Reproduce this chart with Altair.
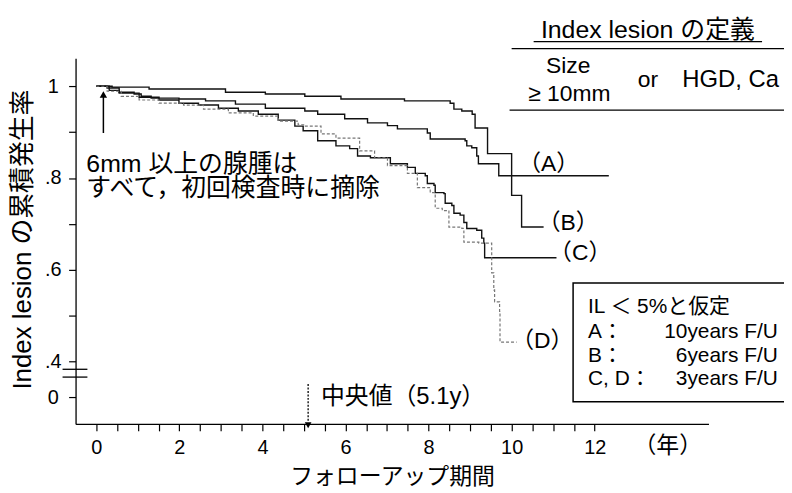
import altair as alt
import pandas as pd

FONT = "Liberation Sans, Noto Sans CJK JP"

# ---- step curves (years, cumulative rate) ----
A_t = [0, 0.38, 1.27, 3.11, 4.07, 5.02, 5.89, 7.42, 8.52, 8.61, 8.80, 9.05, 9.12, 9.42, 10.0, 12.34]
A_v = [1.0, 0.998, 0.994, 0.987, 0.983, 0.978, 0.972, 0.968, 0.963, 0.950, 0.946, 0.939, 0.909, 0.853, 0.805, 0.805]

B_t = [0, 0.26, 0.55, 0.91, 1.08, 1.32, 1.99, 2.63, 3.35, 4.07, 5.02, 5.33, 5.98, 6.53, 7.01, 7.25,
       7.97, 8.04, 8.88, 8.92, 9.04, 9.16, 9.20, 9.69, 10.0, 10.24, 10.77]
B_v = [1.0, 0.996, 0.987, 0.983, 0.978, 0.974, 0.972, 0.968, 0.961, 0.952, 0.946, 0.939, 0.929, 0.920, 0.914, 0.907,
       0.898, 0.885, 0.881, 0.870, 0.866, 0.848, 0.831, 0.805, 0.762, 0.693, 0.693]

C_t = [0, 0.31, 0.55, 1.03, 1.51, 1.99, 2.46, 2.94, 3.42, 3.90, 4.38, 4.78, 4.98, 5.33, 5.77, 6.10, 6.29, 6.60,
       7.08, 7.49, 7.68, 7.92, 7.97, 8.13, 8.16, 8.37, 8.40, 8.56, 8.61, 8.76, 8.85, 8.92, 9.16, 9.28, 9.33, 9.35, 11.08]
C_v = [1.0, 0.991, 0.985, 0.976, 0.970, 0.963, 0.959, 0.952, 0.946, 0.939, 0.926, 0.913, 0.903, 0.881, 0.870, 0.864,
       0.848, 0.844, 0.831, 0.823, 0.810, 0.805, 0.788, 0.784, 0.768, 0.766, 0.745, 0.740, 0.723, 0.719, 0.703, 0.690,
       0.686, 0.669, 0.658, 0.626, 0.626]

D_t = [0, 0.26, 0.60, 1.03, 1.51, 2.10, 2.58, 3.18, 3.78, 4.38, 4.86, 5.02, 5.41, 5.77, 6.34, 6.70, 7.01, 7.49,
       7.73, 8.04, 8.16, 8.33, 8.49, 8.80, 8.85, 9.21, 9.52, 9.57, 9.59, 9.71, 9.72, 10.12]
D_v = [1.0, 0.989, 0.978, 0.970, 0.963, 0.959, 0.950, 0.942, 0.935, 0.924, 0.916, 0.913, 0.896, 0.887, 0.859, 0.844,
       0.827, 0.810, 0.779, 0.768, 0.734, 0.729, 0.693, 0.690, 0.660, 0.658, 0.593, 0.556, 0.530, 0.509, 0.442, 0.442]

# ---- axes ----
x_tick_values = [0, 0.5, 1, 1.5, 2, 2.5, 3, 3.5, 4, 4.5, 5, 5.5, 6, 6.5, 7, 7.5, 8, 8.5, 9, 9.5, 10, 10.5, 11, 11.5, 12]
y_tick_values = [0.3225, 0.4, 0.5, 0.6, 0.7, 0.8, 0.9, 1.0]   # 0.3225 = the "0" below the axis break
x_title = "フォローアップ期間"
y_title = "Index lesion の累積発生率"

# ---- annotations ----
curve_labels = ["（A）", "（B）", "（C）", "（D）"]
curve_label_t = [10.89, 11.36, 11.65, 10.74]
curve_label_v = [0.831, 0.701, 0.636, 0.444]

note_text = ["6mm 以上の腺腫は", "すべて，初回検査時に摘除"]
note_t = [-0.24, -0.24]
note_v = [0.831, 0.777]

median_text = ["中央値（5.1y）"]
median_t = [5.41]
median_v = [0.3225]
median_value = 5.1

unit_text = ["（年）"]
unit_t = [13.76]
unit_v = [0.216]

table_title = ["Index lesion の定義"]
table_title_t = [13.28]
table_title_v = [1.123]
table_cells = ["Size", "≥ 10mm", "or"]
table_cells_t = [11.36, 11.39, 13.28]
table_cells_v = [1.043, 0.983, 1.013]
table_right = ["HGD, Ca"]
table_right_t = [14.11]
table_right_v = [1.013]

legend_left = ["IL ＜ 5%と仮定", "A：", "B：", "C, D："]
legend_right = ["", "10years F/U", "6years F/U", "3years F/U"]
legend_v = [0.519, 0.465, 0.411, 0.361]
legend_left_t = 11.84
legend_right_t = 16.41

# ---- data frames ----
rows = []
for name, ts, vs in [("A", A_t, A_v), ("B", B_t, B_v), ("C", C_t, C_v), ("D", D_t, D_v)]:
    for i, (t, v) in enumerate(zip(ts, vs)):
        rows.append({"series": name, "t": t, "v": v, "i": i})
curves = pd.DataFrame(rows)
solid = curves[curves.series != "D"]
dotted = curves[curves.series == "D"]

x_scale = alt.Scale(domain=[-0.5, 14.74], nice=False, zero=False)
y_scale = alt.Scale(domain=[0.264, 1.061], nice=False, zero=False)

x_axis = alt.Axis(values=x_tick_values,
                  labelExpr="datum.value % 2 == 0 ? format(datum.value, 'd') : ''",
                  title=x_title, titleFont=FONT, titleFontSize=23, titleFontWeight="normal",
                  titleY=53, titleBaseline="middle", titleColor="black",
                  grid=False, tickSize=7, tickWidth=1.2, tickColor="black",
                  domainColor="black", domainWidth=1.3,
                  labelFont=FONT, labelFontSize=20, labelColor="black", labelPadding=7,
                  labelOverlap=False, labelFlush=False)
y_axis = alt.Axis(values=y_tick_values,
                  labelExpr="datum.value < 0.35 ? '0' : (datum.value > 0.99 ? '1' : (round(datum.value*10) % 2 == 0 ? '.' + round(datum.value*10) : ''))",
                  title=y_title, titleFont=FONT, titleFontSize=26, titleFontWeight="normal",
                  titleX=-53, titleY=182, titleAlign="center", titleBaseline="middle", titleColor="black",
                  grid=False, tickSize=7, tickWidth=1.2, tickColor="black",
                  domainColor="black", domainWidth=1.3,
                  labelFont=FONT, labelFontSize=20, labelColor="black", labelPadding=16,
                  labelAlign="center", labelOverlap=False, labelFlush=False)

X = alt.X("t:Q", scale=x_scale, axis=x_axis)
Y = alt.Y("v:Q", scale=y_scale, axis=y_axis)

solid_lines = alt.Chart(solid).mark_line(interpolate="step-after", strokeWidth=1.4).encode(
    x=X, y=Y,
    color=alt.Color("series:N", scale=alt.Scale(domain=["A", "B", "C"], range=["#111", "#111", "#111"]), legend=None),
    order="i:Q")
dotted_line = alt.Chart(dotted).mark_line(interpolate="step-after", strokeWidth=1.2, strokeDash=[3, 2],
                                          color="#777").encode(x=X, y=Y, order="i:Q")


def text_layer(texts, ts, vs, size, align):
    df = pd.DataFrame({"label": texts, "t": ts, "v": vs})
    return alt.Chart(df).mark_text(font=FONT, fontSize=size, align=align, baseline="middle",
                                   color="black").encode(x=X, y=Y, text="label:N")


labels_layer = text_layer(curve_labels, curve_label_t, curve_label_v, 23, "center")
notes_layer = text_layer(note_text, note_t, note_v, 25, "left")
median_layer = text_layer(median_text, median_t, median_v, 24, "left")
unit_layer = text_layer(unit_text, unit_t, unit_v, 23, "center")
tt_layer = text_layer(table_title, table_title_t, table_title_v, 25, "center")
tc_layer = text_layer(table_cells, table_cells_t, table_cells_v, 23, "center")
tr_layer = text_layer(table_right, table_right_t, table_right_v, 24, "left")
leg_l = text_layer(legend_left, [legend_left_t] * 4, legend_v, 21, "left")
leg_r = text_layer(legend_right, [legend_right_t] * 4, legend_v, 21, "right")

# horizontal rules: table lines and axis break marks
hrule_df = pd.DataFrame({
    "t": [10.53, 10.0, 9.95, -0.813, -0.813],
    "t2": [16.03, 16.58, 16.58, -0.215, -0.215],
    "v": [1.097, 1.082, 0.948, 0.383, 0.366],
})
hrules = alt.Chart(hrule_df).mark_rule(color="black", strokeWidth=1.3).encode(
    x=X, x2="t2:Q", y=Y)

# legend box
box_df = pd.DataFrame({"t": [11.48], "t2": [16.58], "v": [0.312], "v2": [0.571]})
box = alt.Chart(box_df).mark_rect(fillOpacity=0, stroke="black", strokeWidth=1.5).encode(
    x=X, x2="t2:Q", y=Y, y2="v2:Q")

# arrows
up_df = pd.DataFrame({"t": [0.17], "v": [0.898], "v2": [0.978]})
up_shaft = alt.Chart(up_df).mark_rule(color="black", strokeWidth=1.5).encode(x=X, y=Y, y2="v2:Q")
up_head = alt.Chart(pd.DataFrame({"t": [0.17], "v": [0.982]})).mark_point(
    shape="triangle-up", filled=True, size=55, color="black", opacity=1).encode(x=X, y=Y)

med_df = pd.DataFrame({"t": [median_value], "v": [0.351], "v2": [0.27]})
med_shaft = alt.Chart(med_df).mark_rule(color="black", strokeWidth=1.3, strokeDash=[2, 1.5]).encode(
    x=X, y=Y, y2="v2:Q")
med_head = alt.Chart(pd.DataFrame({"t": [median_value], "v": [0.261]})).mark_point(
    shape="triangle-down", filled=True, size=45, color="black", opacity=1).encode(x=X, y=Y)

chart = alt.layer(
    solid_lines, dotted_line, hrules, box, up_shaft, up_head, med_shaft, med_head,
    labels_layer, notes_layer, median_layer, unit_layer, tt_layer, tc_layer, tr_layer, leg_l, leg_r
).properties(
    width=637, height=368,
    padding={"left": 68, "top": 49, "right": 76, "bottom": 68},
    autosize=alt.AutoSizeParams(type="none"),
    background="white",
).configure_view(stroke=None)

chart.save("out.html", embed_options={"renderer": "svg", "actions": False})
